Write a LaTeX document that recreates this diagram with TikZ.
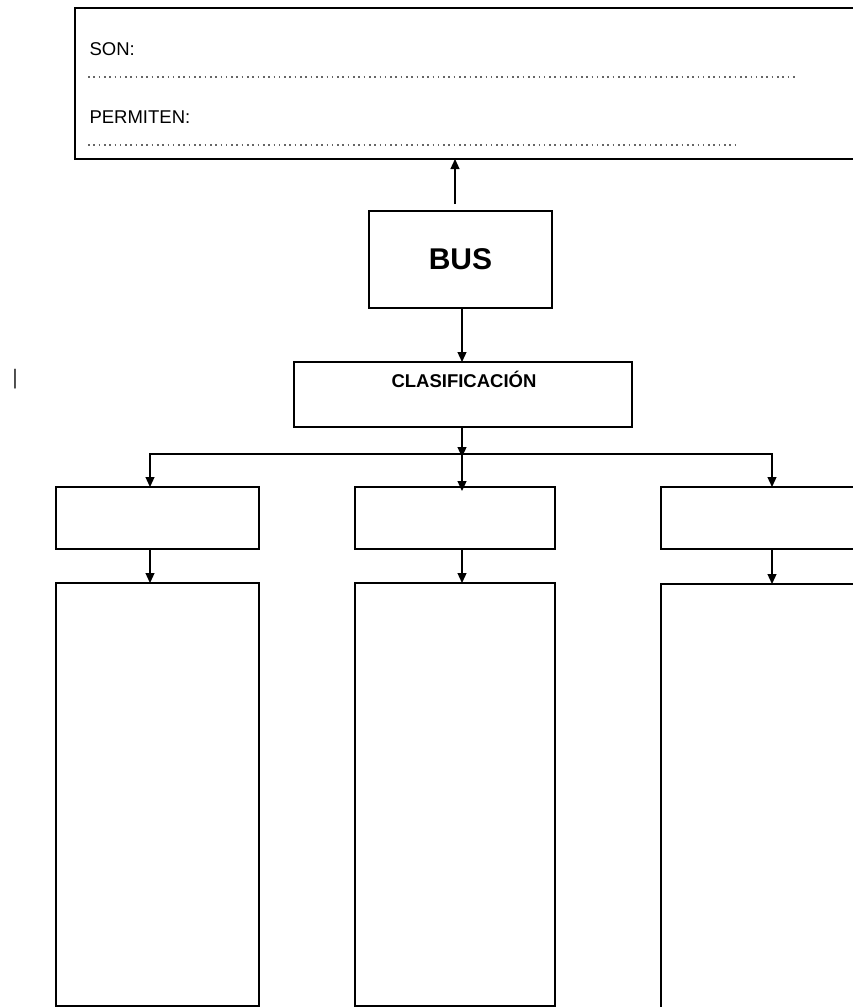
\documentclass[tikz,border=0pt]{standalone}
\usepackage{fontspec}
\setmainfont{Liberation Sans}
\usetikzlibrary{arrows.meta}

\tikzset{
  box/.style={draw, line width=1.6pt, inner sep=0pt, outer sep=0pt},
  arr/.style={line width=1.2pt, -{Triangle[length=10pt,width=9pt]}},
  dotline/.style={black!60, line width=1.6pt, dash pattern=on 1.6pt off 3.7pt},
}

\begin{document}
\begin{tikzpicture}[x=1pt, y=-1pt]
    \clip (0,0) rectangle (853,1007);

    \node[box, minimum width=797, minimum height=151] (info) at (473.5,83.5) {};
    \node[anchor=base west, font=\fontsize{18.5}{20}\selectfont] (son) at (86,55) {SON:};
    \node[anchor=base west, font=\fontsize{18.5}{20}\selectfont] (permiten) at (86,123) {PERMITEN:};
    \coordinate (d1s) at (88,77);
    \coordinate (d1e) at (797,77);
    \coordinate (d2s) at (88,145);
    \coordinate (d2e) at (738,145);

    \node[box, minimum width=183, minimum height=97, font=\fontsize{30}{32}\selectfont\bfseries] (bus) at (460.5,259.5) {BUS};
    \node[box, minimum width=338, minimum height=65] (clasif) at (463,394.5) {};
    \node[anchor=base, font=\fontsize{18.5}{20}\selectfont\bfseries] (clasiftxt) at (464,387) {CLASIFICACIÓN};

    \node[box, minimum width=203, minimum height=62] (tipoA) at (157.5,518) {};
    \node[box, minimum width=200, minimum height=62] (tipoB) at (455,518) {};
    \node[box, minimum width=211, minimum height=62] (tipoC) at (766.5,518) {};
    \node[box, minimum width=203, minimum height=423] (descA) at (157.5,794.5) {};
    \node[box, minimum width=200, minimum height=423] (descB) at (455,794.5) {};
    \node[box, minimum width=211, minimum height=436] (descC) at (766.5,802) {};

    \node[text=black!80, font=\fontsize{21}{22}\selectfont] (cursor) at (15,379) {|};

    \coordinate (up) at (455,204);
    \coordinate (jl) at (150,454);
    \coordinate (jm) at (462,454);
    \coordinate (jr) at (772,454);

    \draw[dotline] (d1s) -- (d1e);
    \draw[dotline] (d2s) -- (d2e);

    \draw[arr] (up) -- (info.south -| up);
    \draw[arr] (bus.south -| jm) -- (clasif.north -| jm);
    \draw[arr] (clasif.south -| jm) -- ([yshift=-3pt]jm);
    \draw[arr] (jm) -- ([yshift=-4pt]tipoB.north -| jm);
    \draw[arr] (jm) -| (tipoA.north -| jl);
    \draw[arr] (jm) -| (tipoC.north -| jr);
    \draw[arr] (tipoA.south -| jl) -- (descA.north -| jl);
    \draw[arr] (tipoB.south -| jm) -- (descB.north -| jm);
    \draw[arr] (tipoC.south -| jr) -- (descC.north -| jr);
  \end{tikzpicture}
\end{document}
